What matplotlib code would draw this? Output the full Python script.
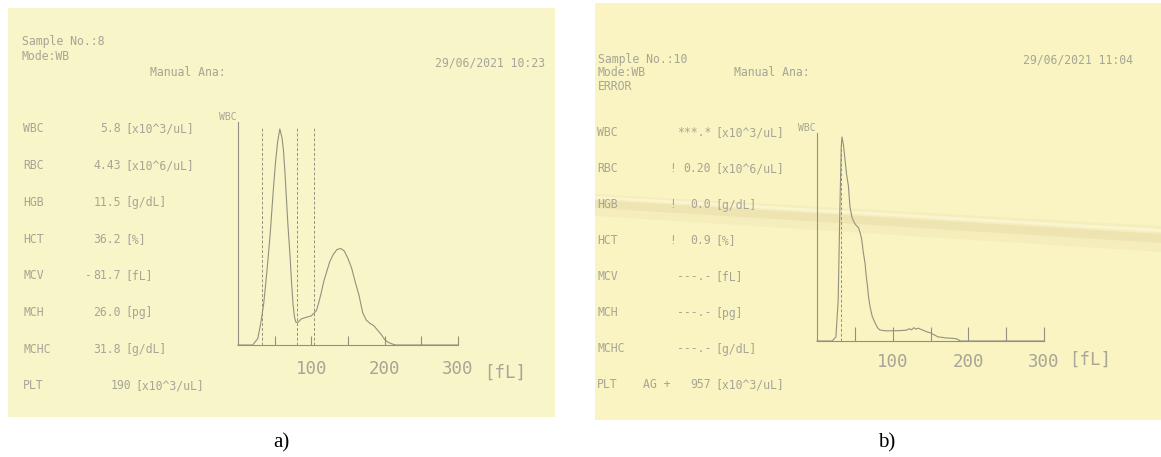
import matplotlib
matplotlib.use("Agg")
import matplotlib.pyplot as plt
from matplotlib.patches import Rectangle, Polygon

W, H = 1161, 457

# ---------------- data ----------------
params = ["WBC", "RBC", "HGB", "HCT", "MCV", "MCH", "MCHC", "PLT"]
units = ["[x10^3/uL]", "[x10^6/uL]", "[g/dL]", "[%]", "[fL]", "[pg]", "[g/dL]", "[x10^3/uL]"]

a_sample = "Sample No.:8"
a_date = "29/06/2021 10:23"
a_values = ["5.8", "4.43", "11.5", "36.2", "81.7", "26.0", "31.8", "190"]
a_flags = ["", "", "", "", "-", "", "", ""]

b_sample = "Sample No.:10"
b_date = "29/06/2021 11:04"
b_values = ["***.*", "0.20", "0.0", "0.9", "---.-", "---.-", "---.-", "957"]
b_flags = ["", "!", "!", "!", "", "", "", "AG +"]

# WBC histogram, panel a (volume fL, relative height %)
a_fl = [0, 20, 27, 31, 35, 38, 41, 44, 48, 51, 54, 57, 60, 62, 64, 66, 68, 71, 73, 75,
        77, 79, 82, 86, 90, 95, 100, 103, 107, 110, 113, 117, 121, 125, 130, 135, 140,
        145, 150, 155, 160, 165, 170, 175, 180, 185, 190, 195, 200, 205, 210, 215, 300]
a_h = [0, 0, 3, 10, 19, 29, 40, 52, 71, 84, 94, 100, 96, 90, 80, 68, 56, 41, 29, 19,
       13, 10.5, 10.5, 12, 12.5, 13, 13.5, 14.5, 16, 19.5, 23.5, 29.5, 34, 38.5, 42, 44.2, 44.7,
       43.5, 40, 35.5, 29, 23, 15, 11.5, 10, 9, 7, 5, 2.5, 1.2, 0.5, 0, 0]
a_marks = [33, 80, 104]

# WBC histogram, panel b
b_fl = [0, 20, 25, 28, 30, 32, 33, 35, 37, 39, 41.5, 43.5, 46, 48, 51, 55, 57, 59, 61,
        63.5, 65, 66.7, 68, 70, 73, 77, 80, 83, 90, 100, 110, 118, 122, 125, 128, 131,
        134, 138, 142, 146, 150, 155, 160, 165, 170, 175, 180, 185, 188, 190, 300]
b_h = [0, 0, 2, 20, 60, 95, 100, 96, 89, 82, 76, 66, 61, 59, 57, 55.5, 53, 50, 44,
       38, 32, 27, 22, 17, 12, 8.7, 6.5, 5.4, 5, 5, 5.1, 5.3, 6, 5.5, 6.5, 5.8,
       6.3, 5.6, 5, 4.4, 4, 3, 2, 1.8, 1.5, 1.4, 1.3, 1, 0.3, 0, 0]
b_marks = [32]

tick_labels = ["100", "200", "300"]

# ---------------- style ----------------
PAPER_A = "#f8f5c9"
PAPER_B = "#f9f4c1"
TXT = "#a6a596"
LINE = "#92917f"
MONO = ["DejaVu Sans Mono"]
FS = 8.3

fig = plt.figure(figsize=(W / 100, H / 100), dpi=100)
bg = fig.add_axes([0, 0, 1, 1])
bg.set_xlim(0, W)
bg.set_ylim(H, 0)
bg.axis("off")

# paper sheets
bg.add_patch(Rectangle((8, 8), 547, 409, color=PAPER_A, lw=0))
bg.add_patch(Rectangle((595, 3), 566, 417, color=PAPER_B, lw=0))
# crease on sheet b
bg.add_patch(Polygon([(595, 194), (1161, 226), (1161, 252), (595, 216)],
                     closed=True, color="#e6d7a6", alpha=0.18, lw=0))
bg.add_patch(Polygon([(595, 200), (1161, 234), (1161, 243), (595, 208)],
                     closed=True, color="#dccb98", alpha=0.28, lw=0))
bg.add_patch(Polygon([(595, 196), (1161, 229), (1161, 232), (595, 198.5)],
                     closed=True, color="#fffbe0", alpha=0.6, lw=0))


def t(x, y, s, ha="left", size=FS, color=TXT, **kw):
    bg.text(x, y, s, ha=ha, va="center", fontsize=size, color=color,
            family=MONO, **kw)


# ---- panel a text ----
t(22, 42, a_sample)
t(22, 56, "Mode:WB")
t(150, 72, "Manual Ana:")
t(545, 63, a_date, ha="right")
rows_a = [129 + 36.7 * i for i in range(8)]
for i, p in enumerate(params):
    y = rows_a[i]
    t(23, y, p)
    vr = 131 if p == "PLT" else 121
    t(vr, y, a_values[i], ha="right")
    t(vr + 4, y, units[i])
    if a_flags[i]:
        t(85, y, a_flags[i])

# ---- panel b text ----
t(598, 59, b_sample)
t(598, 72.5, "Mode:WB")
t(598, 86, "ERROR")
t(734, 72.5, "Manual Ana:")
t(1133, 60, b_date, ha="right")
rows_b = [133 + 36 * i for i in range(8)]
for i, p in enumerate(params):
    y = rows_b[i]
    t(597, y, p)
    t(711, y, b_values[i], ha="right")
    t(715, y, units[i])
    if b_flags[i]:
        t(643 if len(b_flags[i]) > 1 else 669, y, b_flags[i])


# ---- histograms ----
def hist_axes(x0, x300, ytop, ybase, ypeak, fl, h, marks, mark_top, ticklen, pad,
              lab_y, fl_x):
    ax = fig.add_axes([x0 / W, 1 - ybase / H, (x300 - x0) / W, (ybase - ytop) / H])
    ax.set_facecolor("none")
    top = (ybase - ytop) / (ybase - ypeak) * 100
    ax.set_xlim(0, 300)
    ax.set_ylim(0, top)
    ax.plot(fl, h, color=LINE, lw=0.8, clip_on=False)
    for m in marks:
        ax.plot([m, m], [0, mark_top], color=LINE, lw=0.7, ls=(0, (3, 2)))
    for s in ["top", "right"]:
        ax.spines[s].set_visible(False)
    for s in ["left", "bottom"]:
        ax.spines[s].set_color(LINE)
        ax.spines[s].set_linewidth(0.8)
    ax.set_yticks([])
    ax.set_xticks([100, 200, 300])
    ax.set_xticklabels(tick_labels, family=MONO, fontsize=12.5, color=TXT)
    ax.set_xticks([50, 150, 250], minor=True)
    ax.tick_params(axis="x", which="both", direction="in", length=ticklen * 0.72,
                   width=0.8, color=LINE, pad=pad * 0.72)
    bg.text(x0 - 1, ytop - 5, "WBC", ha="right", va="center", fontsize=7,
            color=TXT, family=MONO)
    bg.text(fl_x, lab_y, "[fL]", ha="center", va="center", fontsize=12.5,
            color=TXT, family=MONO)
    return ax


hist_axes(238, 458, 122, 345, 129, a_fl, a_h, a_marks, 101, 9, 15, 373, 505)
hist_axes(817, 1044, 133, 341, 137, b_fl, b_h, b_marks, 98, 14, 12, 360, 1090)

# captions
bg.text(281, 443, "a)", ha="center", va="center", fontsize=15, color="black",
        family=["Liberation Serif", "DejaVu Serif"])
bg.text(887, 443, "b)", ha="center", va="center", fontsize=15, color="black",
        family=["Liberation Serif", "DejaVu Serif"])

fig.savefig("out.png", dpi=100, facecolor="white")
